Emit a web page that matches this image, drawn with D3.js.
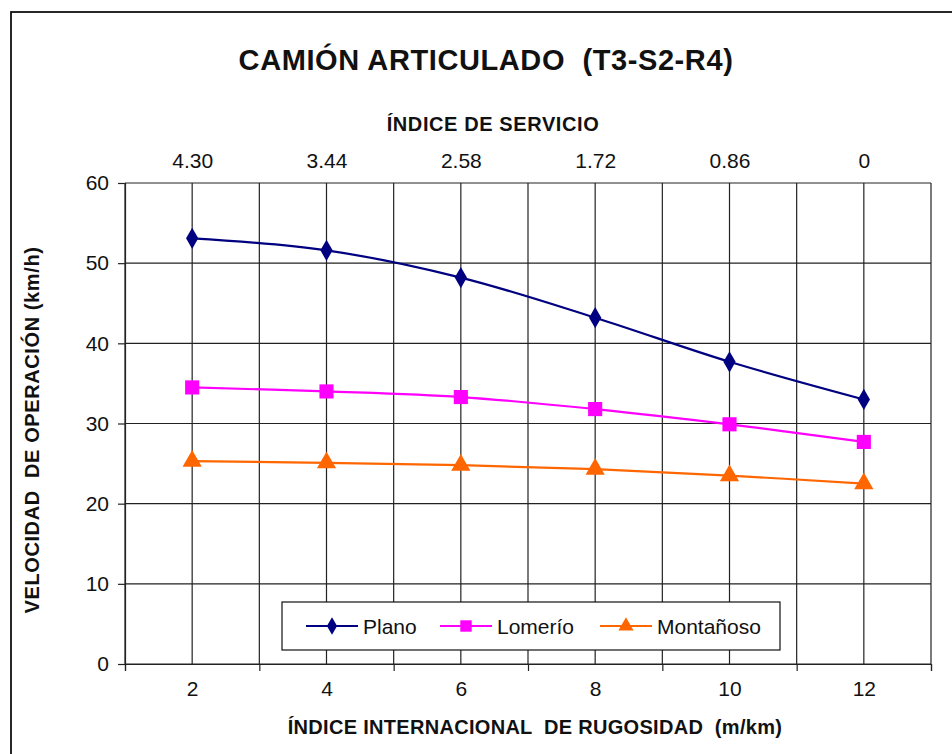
<!DOCTYPE html>
<html>
<head>
<meta charset="utf-8">
<script src="https://cdn.jsdelivr.net/npm/d3@7"></script>
<style>
  html, body { margin: 0; padding: 0; background: #fff; }
  svg { display: block; font-family: "Liberation Sans", Arial, sans-serif; }
</style>
</head>
<body>
<svg id="chart" width="952" height="754"></svg>
<script>
const iri = [2, 4, 6, 8, 10, 12];
const serviceLabels = ["4.30", "3.44", "2.58", "1.72", "0.86", "0"];
const plano = [53.1, 51.6, 48.2, 43.2, 37.7, 33.0];
const lomerio = [34.5, 34.0, 33.3, 31.8, 29.9, 27.7];
const montanoso = [25.3, 25.1, 24.8, 24.3, 23.5, 22.5];
const yTicks = [0, 10, 20, 30, 40, 50, 60];
const seriesNames = ["Plano", "Lomerío", "Montañoso"];
const seriesColors = ["#000080", "#FF00FF", "#FF6600"];
const seriesShapes = [d3.symbolDiamond, d3.symbolSquare, d3.symbolTriangle];

const svg = d3.select("#chart");
const m = { left: 125, right: 931, top: 183, bottom: 664 };
const FONT = "'Liberation Sans', Arial, sans-serif";

// outer border
svg.append("rect").attr("x", 11).attr("y", 12).attr("width", 960).attr("height", 760)
  .attr("fill", "none").attr("stroke", "#111").attr("stroke-width", 1.8);

const x = d3.scaleLinear().domain([1, 13]).range([m.left, m.right]);
const y = d3.scaleLinear().domain([0, 60]).range([m.bottom, m.top]);

// gridlines
const grid = svg.append("g");
grid.selectAll("line.v").data(d3.range(1, 14)).join("line")
  .attr("x1", d => x(d)).attr("x2", d => x(d))
  .attr("y1", m.top).attr("y2", m.bottom)
  .attr("stroke", "#222").attr("stroke-width", 1.2);
grid.selectAll("line.h").data(yTicks).join("line")
  .attr("x1", m.left).attr("x2", m.right)
  .attr("y1", d => y(d)).attr("y2", d => y(d))
  .attr("stroke", "#222").attr("stroke-width", 1.2);

// left axis
const yAxis = svg.append("g").attr("transform", `translate(${m.left},0)`)
  .call(d3.axisLeft(y).tickValues(yTicks).tickSize(7).tickPadding(9).tickFormat(d3.format("d")));
yAxis.select(".domain").attr("stroke", "#222").attr("stroke-width", 1.2);
yAxis.selectAll(".tick line").attr("stroke", "#222").attr("stroke-width", 1.2);
yAxis.selectAll("text").attr("font-size", 21).attr("fill", "#111").attr("font-family", FONT);

// bottom axis: tick marks between categories, labels at categories
const xAxisTicks = svg.append("g").attr("transform", `translate(0,${m.bottom})`)
  .call(d3.axisBottom(x).tickValues([1, 3, 5, 7, 9, 11, 13]).tickSize(7).tickFormat(""));
xAxisTicks.select(".domain").attr("stroke", "#222").attr("stroke-width", 1.2);
xAxisTicks.selectAll(".tick line").attr("stroke", "#222").attr("stroke-width", 1.2);

const xAxisLabels = svg.append("g").attr("transform", `translate(0,${m.bottom})`)
  .call(d3.axisBottom(x).tickValues(iri).tickSize(0).tickPadding(17).tickFormat(d3.format("d")));
xAxisLabels.select(".domain").remove();
xAxisLabels.selectAll("text").attr("font-size", 21).attr("fill", "#111").attr("font-family", FONT);

// top axis labels (Índice de servicio)
const xTop = d3.scaleOrdinal().domain(iri).range(serviceLabels);
const topAxis = svg.append("g").attr("transform", `translate(0,${m.top})`)
  .call(d3.axisTop(x).tickValues(iri).tickSize(0).tickPadding(15).tickFormat(d => xTop(d)));
topAxis.select(".domain").remove();
topAxis.selectAll("text").attr("font-size", 21).attr("fill", "#111").attr("font-family", FONT);

// titles
svg.append("text").attr("x", 486).attr("y", 70).attr("text-anchor", "middle")
  .attr("font-size", 29).attr("font-weight", "bold").attr("fill", "#111")
  .attr("letter-spacing", 0.6)
  .style("white-space", "pre").text("CAMIÓN ARTICULADO  (T3-S2-R4)");
svg.append("text").attr("x", 493).attr("y", 131).attr("text-anchor", "middle")
  .attr("font-size", 20).attr("font-weight", "bold").attr("fill", "#111")
  .attr("letter-spacing", 0.6)
  .text("ÍNDICE DE SERVICIO");
svg.append("text").attr("x", 535).attr("y", 734).attr("text-anchor", "middle")
  .attr("font-size", 20).attr("font-weight", "bold").attr("fill", "#111")
  .attr("letter-spacing", 0.3)
  .style("white-space", "pre").text("ÍNDICE INTERNACIONAL  DE RUGOSIDAD  (m/km)");
svg.append("text").attr("transform", "translate(39,430) rotate(-90)").attr("text-anchor", "middle")
  .attr("font-size", 20).attr("font-weight", "bold").attr("fill", "#111")
  .attr("letter-spacing", 0.6)
  .style("white-space", "pre").text("VELOCIDAD  DE OPERACIÓN (km/h)");

// series
const allSeries = [plano, lomerio, montanoso];
const line = d3.line().x((d, i) => x(iri[i])).y(d => y(d)).curve(d3.curveCatmullRom.alpha(0.5));
const symSizes = [130, 200, 160];
allSeries.forEach((vals, s) => {
  svg.append("path").datum(vals).attr("d", line)
    .attr("fill", "none").attr("stroke", seriesColors[s]).attr("stroke-width", 2.2);
  svg.append("g").selectAll("path").data(vals).join("path")
    .attr("transform", (d, i) => `translate(${x(iri[i])},${y(d)})`)
    .attr("d", d3.symbol().type(seriesShapes[s]).size(symSizes[s]))
    .attr("fill", seriesColors[s]);
});

// legend
const lg = svg.append("g");
lg.append("rect").attr("x", 282).attr("y", 602).attr("width", 498).attr("height", 48)
  .attr("fill", "#fff").attr("stroke", "#111").attr("stroke-width", 1.2);
const legendX = [306, 440, 600];
seriesNames.forEach((name, s) => {
  const g = lg.append("g").attr("transform", `translate(${legendX[s]},626)`);
  g.append("line").attr("x1", 0).attr("x2", 52).attr("y1", 0).attr("y2", 0)
    .attr("stroke", seriesColors[s]).attr("stroke-width", 2.2);
  g.append("path").attr("transform", "translate(26,0)")
    .attr("d", d3.symbol().type(seriesShapes[s]).size([90, 130, 100][s]))
    .attr("fill", seriesColors[s]);
  g.append("text").attr("x", 57).attr("y", 7.5).attr("font-size", 21).attr("fill", "#111")
    .attr("font-family", FONT).text(name);
});
</script>
</body>
</html>
